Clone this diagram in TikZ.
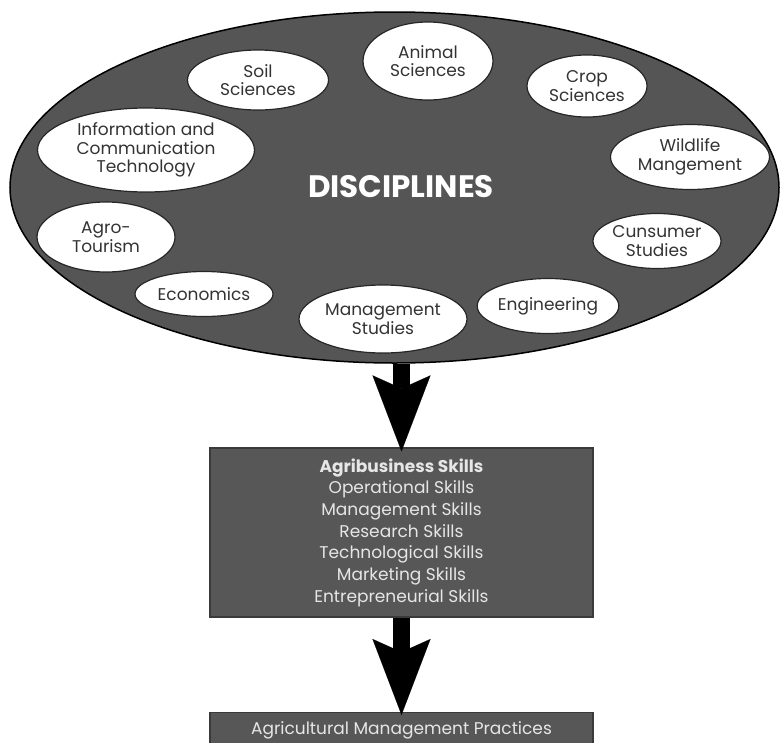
\documentclass[tikz,border=0pt]{standalone}
\usepackage{fontspec}
\setmainfont{Poppins}
\usetikzlibrary{shapes.geometric,arrows.meta,positioning}
\definecolor{ovalgray}{HTML}{555555}
\definecolor{boxgray}{HTML}{575757}
\definecolor{boxline}{HTML}{3A3A3A}
\definecolor{bubtext}{HTML}{333333}
\definecolor{boxtext}{HTML}{E6E6E6}

\begin{document}
\begin{tikzpicture}[x=1pt, y=-1pt,
  oval/.style={ellipse, draw=black, line width=1.5pt, fill=ovalgray, inner sep=0pt},
  bubble/.style={ellipse, draw=black!85, line width=1.2pt, fill=white, inner sep=0pt, align=center, text=bubtext, font=\fontsize{17}{18.5}\selectfont},
  skillbox/.style={rectangle, draw=boxline, line width=1.2pt, fill=boxgray, minimum width=383pt, align=center, text=boxtext, font=\fontsize{17}{21.7}\selectfont},
  arr/.style={-{Stealth[length=76pt, width=58pt, inset=13pt, line width=0.1pt]}, line width=17pt, black}
]
\useasboundingbox (0,0) rectangle (781,742);
\node[oval, minimum width=769pt, minimum height=351pt] (disc) at (394.5,187.5) {};
\node[text=white, font=\fontsize{31}{34}\selectfont\bfseries] (title) at (401,187) {DISCIPLINES};
\node[bubble, minimum width=141pt, minimum height=60pt] (soil) at (258,80) {Soil\\Sciences};
\node[bubble, minimum width=130pt, minimum height=78pt] (animal) at (428,61) {Animal\\Sciences};
\node[bubble, minimum width=120pt, minimum height=62pt] (crop) at (587,86) {Crop\\Sciences};
\node[bubble, minimum width=217pt, minimum height=84pt] (ict) at (146,150) {Information and\\Communication\\Technology};
\node[bubble, minimum width=159pt, minimum height=65pt] (wild) at (690,157) {Wildlife\\Mangement};
\node[bubble, minimum width=138pt, minimum height=70pt] (agro) at (106,237) {Agro-\\Tourism};
\node[bubble, minimum width=128pt, minimum height=55pt] (cons) at (657,241) {Cunsumer\\Studies};
\node[bubble, minimum width=138pt, minimum height=45pt] (econ) at (204,294) {Economics};
\node[bubble, minimum width=168pt, minimum height=68pt] (mgmt) at (383,319) {Management\\Studies};
\node[bubble, minimum width=132pt, minimum height=55pt] (eng) at (548,306) {Engineering};
\node[skillbox, minimum height=169pt] (skills) at (401.5,532.5) {\textbf{Agribusiness Skills}\\Operational Skills\\Management Skills\\Research Skills\\Technological Skills\\Marketing Skills\\Entrepreneurial Skills};
\node[skillbox, minimum height=36pt, anchor=north] (practice) at (401.5,712) {Agricultural Management Practices};
\draw[arr] (disc.south -| skills.north) -- ([yshift=-4pt]skills.north);
\draw[arr] (skills.south) -- ([yshift=-3pt]practice.north);
\end{tikzpicture}
\end{document}
